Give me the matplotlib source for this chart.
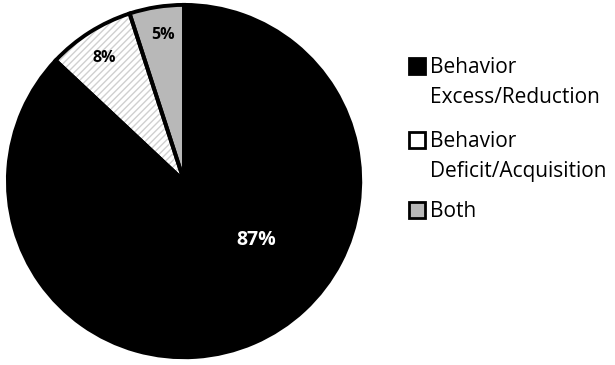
import matplotlib.pyplot as plt
import matplotlib.patches as mpatches

# Datos del gráfico
categories = ['Behavior\nExcess/Reduction', 'Behavior\nDeficit/Acquisition', 'Both']
shares = [87, 8, 5]
pct_labels = ['87%', '8%', '5%']

plt.rcParams['font.family'] = ['Open Sans', 'DejaVu Sans']

fig = plt.figure(figsize=(6.15, 3.65), dpi=100)
ax = fig.add_axes([0.0098, 0.0164, 0.579, 0.975])

fills = ['black', 'white', '#b8b8b8']
hatches = [None, '/////', None]

# Capa de relleno (con el rayado gris claro)
wedges, _ = ax.pie(shares, startangle=90, counterclock=False, radius=1,
                   colors=fills, wedgeprops=dict(linewidth=0))
for w, h in zip(wedges, hatches):
    if h:
        w.set_hatch(h)
        w.set_edgecolor('#d0d0d0')
        w.set_linewidth(0)

# Capa de bordes negros
ax.pie(shares, startangle=90, counterclock=False, radius=1,
       colors=['none'] * 3,
       wedgeprops=dict(linewidth=2.8, edgecolor='black', fill=False))

# Etiquetas de porcentaje
label_pos = [(0.41, -0.335), (-0.455, 0.70), (-0.118, 0.83)]
label_col = ['white', 'black', 'black']
label_size = [14, 11.5, 11.5]
for (x, y), t, c, s in zip(label_pos, pct_labels, label_col, label_size):
    ax.text(x, y, t, ha='center', va='center', fontsize=s,
            fontweight='bold', color=c)

ax.set_xlim(-1.01, 1.01)
ax.set_ylim(-1.01, 1.01)
ax.set_aspect('equal')
ax.axis('off')

# Leyenda manual (línea base de la primera línea en px)
legend_y = [73, 147, 217]
for cat, col, yy in zip(categories, fills, legend_y):
    sq = mpatches.Rectangle((409 / 615, 1 - (yy + 1) / 365), 16 / 615, 16 / 365,
                            transform=fig.transFigure, facecolor=col,
                            edgecolor='black', linewidth=2)
    fig.patches.append(sq)
    for i, line in enumerate(cat.split('\n')):
        fig.text(430 / 615, 1 - (yy + 30 * i) / 365, line, ha='left',
                 va='baseline', fontsize=15)

fig.savefig('out.png', dpi=100)
